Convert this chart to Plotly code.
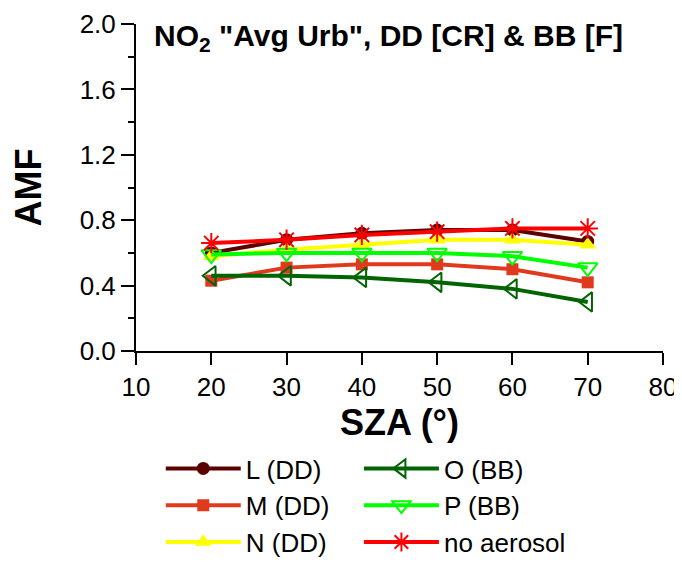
import plotly.graph_objects as go

sza = [20, 30, 40, 50, 60, 70]

series_names = ["L (DD)", "M (DD)", "N (DD)", "O (BB)", "P (BB)", "no aerosol"]
L_dd = [0.60, 0.68, 0.72, 0.74, 0.74, 0.67]
M_dd = [0.43, 0.51, 0.53, 0.53, 0.50, 0.42]
N_dd = [0.58, 0.62, 0.65, 0.68, 0.68, 0.65]
O_bb = [0.46, 0.46, 0.45, 0.42, 0.38, 0.30]
P_bb = [0.59, 0.60, 0.60, 0.60, 0.58, 0.51]
no_aerosol = [0.66, 0.68, 0.71, 0.73, 0.75, 0.75]

x_ticks = [10, 20, 30, 40, 50, 60, 70, 80]
y_ticks = [0.0, 0.4, 0.8, 1.2, 1.6, 2.0]

styles = {
    "L (DD)": dict(data=L_dd, color="#5c0000", symbol="circle", size=13, lw=0, legend="legend"),
    "M (DD)": dict(data=M_dd, color="#e03a1e", symbol="square", size=12, lw=0, legend="legend"),
    "N (DD)": dict(data=N_dd, color="#ffff00", symbol="triangle-up", size=15, lw=0, legend="legend"),
    "O (BB)": dict(data=O_bb, color="#006400", symbol="triangle-left-open", size=17, lw=2, legend="legend2"),
    "P (BB)": dict(data=P_bb, color="#00ff00", symbol="triangle-down-open", size=17, lw=2, legend="legend2"),
    "no aerosol": dict(data=no_aerosol, color="#ff0000", symbol="asterisk-open", size=17, lw=2, legend="legend2"),
}

fig = go.Figure()
for name in series_names:
    s = styles[name]
    fig.add_trace(go.Scatter(
        x=sza, y=s["data"], name=name, mode="lines+markers",
        line=dict(color=s["color"], width=4),
        marker=dict(symbol=s["symbol"], size=s["size"], color=s["color"],
                    line=dict(color=s["color"], width=s["lw"])),
        legend=s["legend"],
    ))

font = "Liberation Sans, Arial, sans-serif"
legend_common = dict(orientation="v", yref="container", y=0.214, yanchor="top",
                     xanchor="left", font=dict(size=26), traceorder="normal",
                     bgcolor="rgba(0,0,0,0)", itemwidth=75)
fig.update_layout(
    width=674, height=556,
    margin=dict(l=128, r=19, t=16, b=212.5),
    plot_bgcolor="white", paper_bgcolor="white",
    font=dict(family=font, color="black", size=26),
    showlegend=True,
    legend=dict(x=0.047, **legend_common),
    legend2=dict(x=0.423, **legend_common),
    xaxis=dict(range=[10, 80], tickvals=x_ticks, ticktext=[str(v) for v in x_ticks],
               showgrid=False, zeroline=False, showline=True, linecolor="black",
               linewidth=2, ticks="outside", ticklen=12, tickwidth=2, tickcolor="black",
               automargin=False,
               title=dict(text="<b>SZA (°)</b>", font=dict(size=36), standoff=9)),
    yaxis=dict(range=[0, 2], tickvals=y_ticks, ticktext=[f"{v:.1f}" for v in y_ticks],
               showgrid=False, zeroline=False, showline=True, linecolor="black",
               linewidth=2, ticks="outside", ticklen=13, tickwidth=2, tickcolor="black",
               automargin=False,
               minor=dict(ticks="outside", ticklen=6, tickwidth=2, tickcolor="black", dtick=0.2),
               title=dict(text="<b>AMF</b>", font=dict(size=36), standoff=44)),
)
fig.add_annotation(x=0.03, y=1.02, xref="paper", yref="paper", xanchor="left", yanchor="top",
                   text='<b>NO<sub>2</sub> "Avg Urb", DD [CR] & BB [F]</b>',
                   showarrow=False, font=dict(size=30))
fig.write_html("out.html")
